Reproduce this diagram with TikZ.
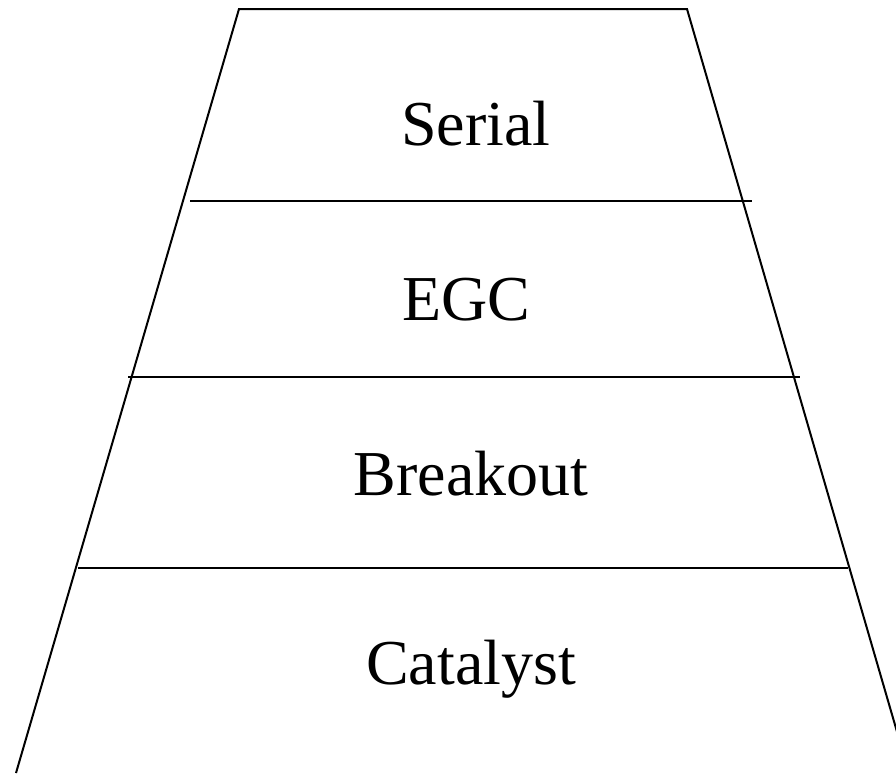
\documentclass[tikz,border=0pt]{standalone}
\usepackage{fontspec}
\setmainfont{Liberation Serif}
\begin{document}
\begin{tikzpicture}[x=.5pt,y=-.5pt, line width=1pt, lvl/.style={anchor=base,inner sep=0pt,font=\fontsize{32}{38}\selectfont}]
\useasboundingbox (0,0) rectangle (896,773);
\clip (0,0) rectangle (896,773);
\path (239,9) coordinate(tl) (687,9) coordinate(tr) (16,773) coordinate(bl) (909,773) coordinate(br);
\draw (bl)--(tl)--(tr)--(br);
\foreach \y/\a/\b in {201/190/752, 377/128/800, 568/78/848} \draw (\a,\y)--(\b,\y);
\path (476,145) node[lvl] (serial) {Serial} (466,320) node[lvl] (egc) {EGC} (471,495) node[lvl] (breakout) {Breakout} (471,684) node[lvl] (catalyst) {Catalyst};
\end{tikzpicture}
\end{document}
